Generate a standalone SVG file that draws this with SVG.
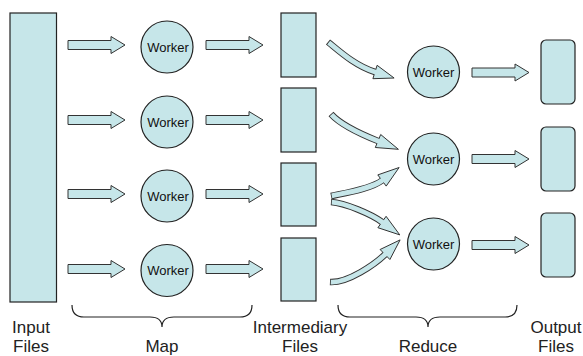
<svg xmlns="http://www.w3.org/2000/svg" xmlns:xlink="http://www.w3.org/1999/xlink" width="583" height="356" viewBox="0 0 583 356">
<style>
  .box{fill:#C6E6E9;stroke:#222;stroke-width:1.2}
  .blk{fill:#C6E6E9;stroke:#333;stroke-width:1}
  .sh-out{fill:none;stroke:#333;stroke-width:6.6}
  .sh-in{fill:none;stroke:#C6E6E9;stroke-width:4.8}
  .wk{font-family:"Liberation Sans",Arial,sans-serif;font-size:13px;fill:#111;text-anchor:middle}
  .lbl{font-family:"Liberation Sans",Arial,sans-serif;font-size:17px;fill:#222;text-anchor:middle}
  .brace{fill:none;stroke:#222;stroke-width:1.2}
</style>
<defs>
  <path id="sarrow" d="M0,-4.5 H43 V-8.5 L57,0 L43,8.5 V4.5 H0 Z"/>
</defs>
<rect width="583" height="356" fill="#fff"/>

<g id="input-files"><rect class="box" x="10" y="13" width="46.5" height="289"/></g>

<g id="map-worker-1"><circle class="box" cx="167" cy="47" r="26"/><text class="wk" x="168" y="51.5">Worker</text></g>
<g id="map-worker-2"><circle class="box" cx="167" cy="122" r="26"/><text class="wk" x="168" y="126.5">Worker</text></g>
<g id="map-worker-3"><circle class="box" cx="167" cy="196" r="26"/><text class="wk" x="168" y="200.5">Worker</text></g>
<g id="map-worker-4"><circle class="box" cx="167" cy="270.5" r="26"/><text class="wk" x="168" y="275">Worker</text></g>

<g id="intermediate-1"><rect class="box" x="281" y="13" width="35" height="64"/></g>
<g id="intermediate-2"><rect class="box" x="281" y="88" width="35" height="64"/></g>
<g id="intermediate-3"><rect class="box" x="281" y="163" width="35" height="63"/></g>
<g id="intermediate-4"><rect class="box" x="281" y="238" width="35" height="63"/></g>

<g id="reduce-worker-1"><circle class="box" cx="433.5" cy="72" r="26"/><text class="wk" x="433.5" y="76.5">Worker</text></g>
<g id="reduce-worker-2"><circle class="box" cx="433.5" cy="159" r="26"/><text class="wk" x="433.5" y="163.5">Worker</text></g>
<g id="reduce-worker-3"><circle class="box" cx="433.5" cy="244" r="26"/><text class="wk" x="433.5" y="248.5">Worker</text></g>

<g id="output-1"><rect class="box" x="541" y="40" width="34" height="64" rx="5"/></g>
<g id="output-2"><rect class="box" x="541" y="127" width="34" height="64" rx="5"/></g>
<g id="output-3"><rect class="box" x="541" y="213" width="34" height="64" rx="5"/></g>

<g id="connectors">
  <use xlink:href="#sarrow" href="#sarrow" class="blk" x="68" y="45"/>
  <use xlink:href="#sarrow" href="#sarrow" class="blk" x="68" y="120"/>
  <use xlink:href="#sarrow" href="#sarrow" class="blk" x="68" y="194"/>
  <use xlink:href="#sarrow" href="#sarrow" class="blk" x="68" y="269"/>
  <use xlink:href="#sarrow" href="#sarrow" class="blk" x="206" y="45"/>
  <use xlink:href="#sarrow" href="#sarrow" class="blk" x="206" y="120"/>
  <use xlink:href="#sarrow" href="#sarrow" class="blk" x="206" y="194"/>
  <use xlink:href="#sarrow" href="#sarrow" class="blk" x="206" y="269"/>
  <use xlink:href="#sarrow" href="#sarrow" class="blk" x="472" y="72.5"/>
  <use xlink:href="#sarrow" href="#sarrow" class="blk" x="472" y="159"/>
  <use xlink:href="#sarrow" href="#sarrow" class="blk" x="472" y="245"/>

  <g id="curve-a">
    <path class="sh-out" d="M328,42 C338,50 355,66 375,72"/>
    <polygon class="blk" points="372.9,78.7 394.1,78 377.1,65.3"/>
    <path class="sh-in" d="M328.7,42.6 C338,50 355,66 375,72 L376.9,72.6"/>
  </g>
  <g id="curve-b">
    <path class="sh-out" d="M331,114 C340,124 358,133 378,141"/>
    <polygon class="blk" points="375.3,147.5 398.4,149.3 380.7,134.5"/>
    <path class="sh-in" d="M331.5,114.6 C340,124 358,133 378,141 L379.9,141.8"/>
  </g>
  <g id="curve-c">
    <path class="sh-out" d="M331,196 C345,193 371,189 382,180.5"/>
    <polygon class="blk" points="386.2,186.1 399.1,167.5 377.8,174.9"/>
    <path class="sh-in" d="M331.8,195.8 C345,193 371,189 382,180.5 L383.6,179.3"/>
  </g>
  <g id="curve-d">
    <path class="sh-out" d="M331,202 C345,203 371,214 382,222"/>
    <polygon class="blk" points="377.9,227.7 399.8,234.9 386.1,216.3"/>
    <path class="sh-in" d="M331.8,202.1 C345,203 371,214 382,222 L383.6,223.2"/>
  </g>
  <g id="curve-e">
    <path class="sh-out" d="M330,282 C348,283 374.9,264.2 385,254.5"/>
    <polygon class="blk" points="389.9,259.5 400.1,239.9 380.1,249.5"/>
    <path class="sh-in" d="M330.8,282.04 C348,283 374.9,264.2 385,254.5 L386.4,253.1"/>
  </g>
</g>

<g id="braces">
  <path class="brace" d="M72,305 Q72,317 84,317 L150,317 Q162,317 162,327 Q162,317 174,317 L240,317 Q252,317 252,305"/>
  <path class="brace" d="M338,305 Q338,317 350,317 L416,317 Q428,317 428,327 Q428,317 440,317 L505,317 Q517,317 517,305"/>
</g>

<g id="labels">
  <text class="lbl" x="31" y="333">Input</text>
  <text class="lbl" x="31" y="351.5">Files</text>
  <text class="lbl" x="162" y="351.5">Map</text>
  <text class="lbl" x="300" y="333">Intermediary</text>
  <text class="lbl" x="300" y="351.5">Files</text>
  <text class="lbl" x="428" y="351.5">Reduce</text>
  <text class="lbl" x="556" y="333">Output</text>
  <text class="lbl" x="556" y="351.5">Files</text>
</g>
</svg>
